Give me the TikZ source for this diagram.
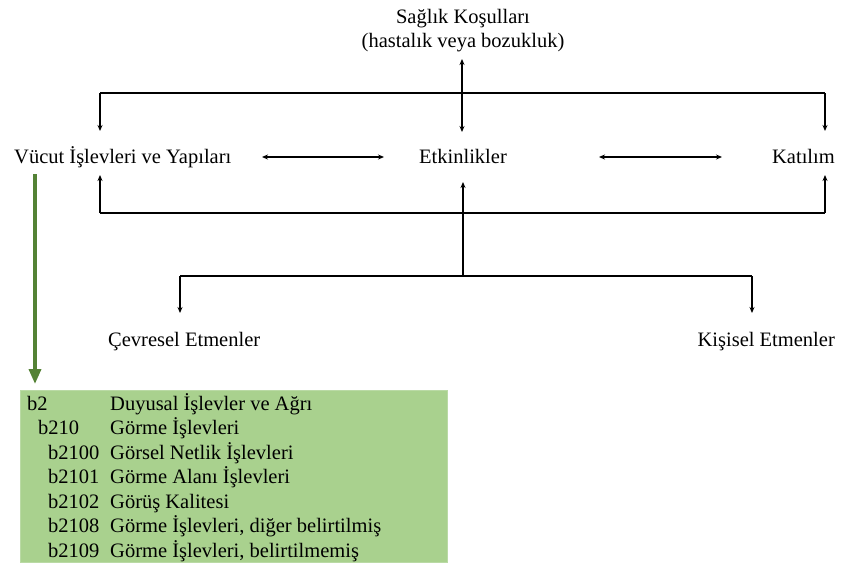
\documentclass[tikz,border=0pt]{standalone}
\usepackage{fontspec}
\setmainfont{Liberation Serif}
\usetikzlibrary{arrows.meta}
\definecolor{boxgreen}{HTML}{A9D18E}
\definecolor{arrgreen}{HTML}{548235}
\begin{document}
\begin{tikzpicture}[x=1pt,y=-1pt,
  lbl/.style={font=\fontsize{20.5}{24}\selectfont, inner sep=0pt, anchor=base},
  rowtxt/.style={font=\fontsize{20.5}{24}\selectfont, inner sep=0pt, anchor=base west},
  conn/.style={line width=1.2pt, -{Stealth[length=6pt,width=5pt]}},
  dconn/.style={line width=1.2pt, {Stealth[length=6pt,width=5pt]}-{Stealth[length=6pt,width=5pt]}},
  plain/.style={line width=1.2pt},
  gconn/.style={line width=3.5pt, arrgreen, -{Triangle[length=15pt,width=12pt]}}]
\useasboundingbox (0,0) rectangle (864,571);
% labels
\node[lbl] (sk1) at (463,23) {Sağlık Koşulları};
\node[lbl] (sk2) at (463,47) {(hastalık veya bozukluk)};
\node[lbl, anchor=base west] (vucut) at (14,163) {Vücut İşlevleri ve Yapıları};
\node[lbl] (etk) at (463,163) {Etkinlikler};
\node[lbl, anchor=base east] (kat) at (835,163) {Katılım};
\node[lbl, anchor=base west] (cev) at (108,346) {Çevresel Etmenler};
\node[lbl, anchor=base east] (kis) at (835,346) {Kişisel Etmenler};
% coordinates
\coordinate (skb) at (462,59);
\coordinate (etkt) at (462,132);
\coordinate (tl) at (100,93);
\coordinate (tr) at (825,93);
\coordinate (vt) at (100,131);
\coordinate (kt) at (825,131);
\coordinate (vb) at (100,175);
\coordinate (kb) at (825,175);
\coordinate (bl) at (100,213);
\coordinate (br) at (825,213);
\coordinate (etkb) at (463,182);
\coordinate (mid) at (463,276);
\coordinate (cl) at (180,276);
\coordinate (cr) at (752,276);
\coordinate (ct) at (180,313);
\coordinate (kst) at (752,313);
\coordinate (a1) at (262,157);
\coordinate (a2) at (384,157);
\coordinate (a3) at (599,157);
\coordinate (a4) at (722,157);
\coordinate (gs) at (35,174);
\coordinate (ge) at (35,384);
% connectors
\draw[dconn] (skb) -- (etkt);
\draw[plain] (tl) -- (tr);
\draw[conn] (tl) -- (vt);
\draw[conn] (tr) -- (kt);
\draw[plain] (bl) -- (br);
\draw[conn] (bl) -- (vb);
\draw[conn] (br) -- (kb);
\draw[conn] (mid) -- (etkb);
\draw[plain] (cl) -- (cr);
\draw[conn] (cl) -- (ct);
\draw[conn] (cr) -- (kst);
\draw[dconn] (a1) -- (a2);
\draw[dconn] (a3) -- (a4);
\draw[gconn] (gs) -- (ge);
% green box
\node[fill=boxgreen, draw=boxgreen!80!white, minimum width=427pt, minimum height=172pt, anchor=north west, inner sep=0pt] (box) at (20,390) {};
\node[rowtxt] (c1) at (27,410) {b2};
\node[rowtxt] (d1) at (110,410) {Duyusal İşlevler ve Ağrı};
\node[rowtxt] (c2) at (38,434.5) {b210};
\node[rowtxt] (d2) at (110,434.5) {Görme İşlevleri};
\node[rowtxt] (c3) at (48,459) {b2100};
\node[rowtxt] (d3) at (110,459) {Görsel Netlik İşlevleri};
\node[rowtxt] (c4) at (48,483.5) {b2101};
\node[rowtxt] (d4) at (110,483.5) {Görme Alanı İşlevleri};
\node[rowtxt] (c5) at (48,508) {b2102};
\node[rowtxt] (d5) at (110,508) {Görüş Kalitesi};
\node[rowtxt] (c6) at (48,532.5) {b2108};
\node[rowtxt] (d6) at (110,532.5) {Görme İşlevleri, diğer belirtilmiş};
\node[rowtxt] (c7) at (48,557) {b2109};
\node[rowtxt] (d7) at (110,557) {Görme İşlevleri, belirtilmemiş};
\end{tikzpicture}
\end{document}
